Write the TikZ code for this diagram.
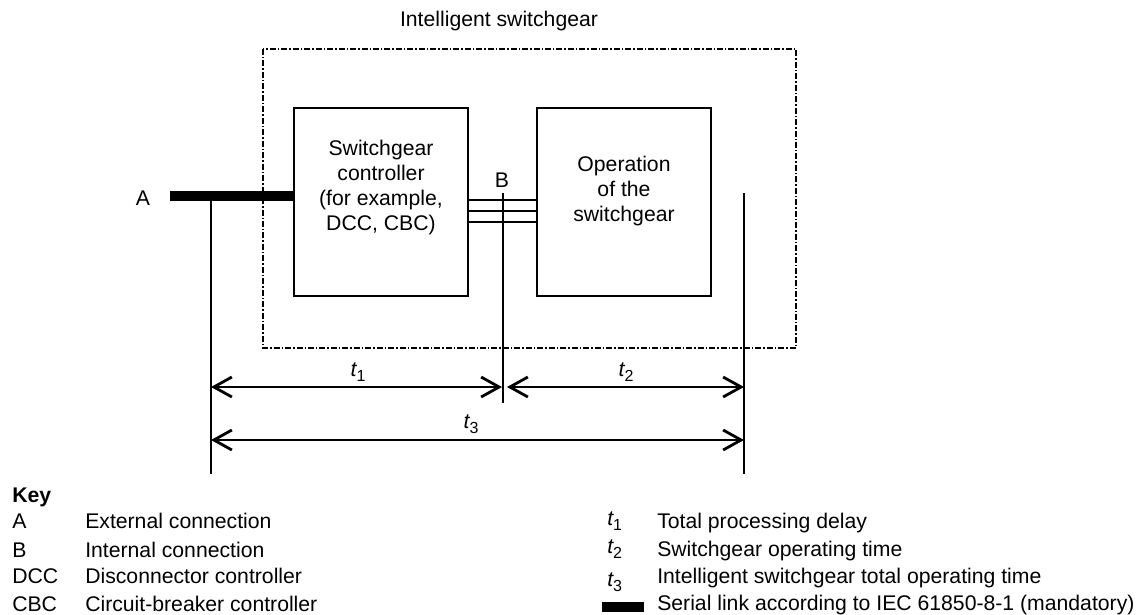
\documentclass[tikz,border=0pt]{standalone}
\usepackage{fontspec}
\setmainfont{Liberation Sans}
\usetikzlibrary{arrows.meta}
\newcommand{\tvar}[1]{{\itshape t}\raisebox{-0.5ex}{\fontsize{12}{12}\selectfont #1}}
\begin{document}
\begin{tikzpicture}[x=0.75pt,y=-0.75pt,
  font=\fontsize{15.9}{18.75}\selectfont,
  box/.style={draw, line width=1pt, minimum width=130.5pt, minimum height=141pt, inner sep=0pt},
  txt/.style={align=center, inner sep=0pt},
  lbl/.style={anchor=base, inner sep=0pt},
  thinline/.style={line width=0.8pt},
  busline/.style={line width=1.5pt},
  dimline/.style={line width=2.1pt, {Straight Barb[length=13.5pt,width=15pt]}-{Straight Barb[length=13.5pt,width=15pt]}},
  frame/.style={line width=1.6pt, dash pattern=on 4.5pt off 1.5pt on 1.1pt off 1.5pt},
  keytxt/.style={anchor=base west, inner sep=0pt}]
\useasboundingbox (0,0) rectangle (1145,614);

% title and frame
\node[txt] (title) at (499,21) {Intelligent switchgear};
\draw[frame] (263,49) rectangle (796,348);

% boxes
\node[box] (ctrl) at (381,202) {};
\node[box] (oper) at (624,202) {};
\node[txt] (ctrltxt) at (381,188) {Switchgear\\controller\\(for example,\\DCC, CBC)};
\node[txt] (opertxt) at (624,191) {Operation\\of the\\switchgear};

% external connection A
\coordinate (abar) at (170,196);
\draw[line width=7.5pt] (abar) -- (ctrl.west |- abar);
\node[lbl] (A) at (143,205) {A};

% internal connection B
\foreach \yy in {200,211,222}{
  \draw[busline] (ctrl.east |- 0,\yy) -- (oper.west |- 0,\yy);
}
\node[lbl] (B) at (502,187) {B};

% vertical reference lines
\coordinate (v1t) at (211,196);
\coordinate (v1b) at (211,474);
\coordinate (v2t) at (503,193);
\coordinate (v2b) at (503,403);
\coordinate (v3t) at (744,193);
\coordinate (v3b) at (744,474);
\draw[thinline] (v1t) -- (v1b);
\draw[thinline] (v2t) -- (v2b);
\draw[thinline] (v3t) -- (v3b);

% dimension arrows
\coordinate (t1a) at (211,387);
\coordinate (t1b) at (502,387);
\coordinate (t2a) at (507,387);
\coordinate (t2b) at (744,387);
\coordinate (t3a) at (211,440);
\coordinate (t3b) at (744,440);
\draw[dimline] (t1a) -- (t1b);
\draw[dimline] (t2a) -- (t2b);
\draw[dimline] (t3a) -- (t3b);
\node[lbl] (t1) at (358,376) {\tvar{1}};
\node[lbl] (t2) at (626,376) {\tvar{2}};
\node[lbl] (t3) at (471,428) {\tvar{3}};

% key
\node[keytxt] (key) at (12,502) {\bfseries Key};
\node[keytxt] (kA) at (12,528) {A};
\node[keytxt] (kAt) at (85,528) {External connection};
\node[keytxt] (kB) at (12,557) {B};
\node[keytxt] (kBt) at (85,557) {Internal connection};
\node[keytxt] (kD) at (12,583) {DCC};
\node[keytxt] (kDt) at (85,583) {Disconnector controller};
\node[keytxt] (kC) at (12,611) {CBC};
\node[keytxt] (kCt) at (85,611) {Circuit-breaker controller};

\node[keytxt] (k1) at (607,525) {\tvar{1}};
\node[keytxt] (k1t) at (657,528) {Total processing delay};
\node[keytxt] (k2) at (607,553) {\tvar{2}};
\node[keytxt] (k2t) at (657,556) {Switchgear operating time};
\node[keytxt] (k3) at (607,586) {\tvar{3}};
\node[keytxt] (k3t) at (657,583) {Intelligent switchgear total operating time};
\fill (602,602) rectangle (644,612);
\node[keytxt] (k4t) at (657,610) {Serial link according to IEC 61850-8-1 (mandatory)};
\end{tikzpicture}
\end{document}
